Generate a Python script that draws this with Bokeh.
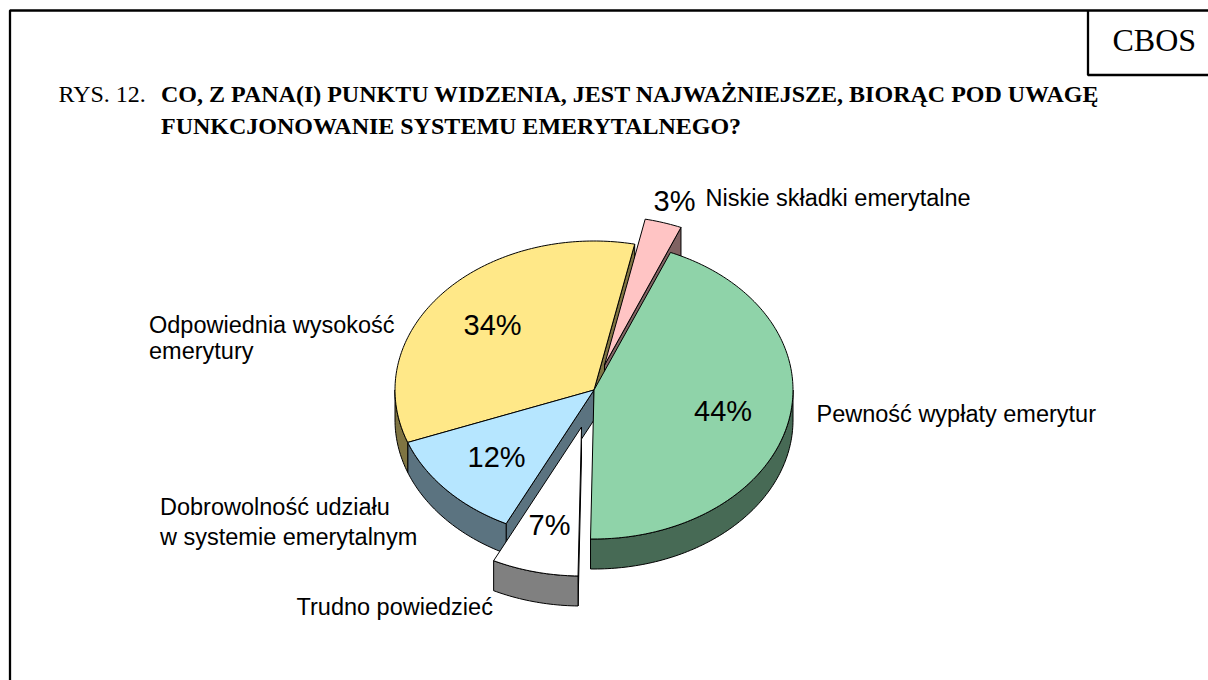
import math
from bokeh.plotting import figure
from bokeh.embed import file_html
from bokeh.resources import INLINE
from bokeh.core.properties import value

# --- data ---
categories = ["Pewność wypłaty emerytur", "Trudno powiedzieć",
              "Dobrowolność udziału w systemie emerytalnym",
              "Odpowiednia wysokość emerytury", "Niskie składki emerytalne"]
shares = [44, 7, 12, 34, 3]
percent_labels = ["44%", "7%", "12%", "34%", "3%"]
top_colors = ["#8FD3A9", "#FFFFFF", "#B6E6FF", "#FFE888", "#FFC4C4"]
side_colors = ["#476A55", "#808080", "#5B7380", "#7F7442", "#806262"]

# --- layout ---
CX, CY, RX, RY, DEPTH = 593.5, 389.5, 199, 149, 30
START = 22.6
explode = [(0, 0), (-12.5, 37), (0, 0), (0, 0), (10.5, -25)]
pct_pos = [(693.5, 410), (528, 524), (467, 456), (463, 324), (653, 200)]
name_lines = [("Pewność wypłaty emerytur", 816, 413), ("Trudno powiedzieć", 296, 606),
              ("Dobrowolność udziału", 159.5, 506), ("w systemie emerytalnym", 159.5, 536),
              ("Odpowiednia wysokość", 148.5, 324.5), ("emerytury", 148.5, 350),
              ("Niskie składki emerytalne", 705, 197)]

p = figure(width=1208, height=680, x_range=(0, 1208), y_range=(680, 0),
           toolbar_location=None, output_backend="svg", min_border=0)
p.axis.visible = False
p.grid.visible = False
p.outline_line_color = None

def pt(a, i, dz=0):
    r = math.radians(a)
    return (CX + explode[i][0] + RX * math.sin(r), CY + explode[i][1] - RY * math.cos(r) + dz)

spans, a = [], START
for s in shares:
    spans.append((a, a + s * 3.6))
    a += s * 3.6

def arc(a0, a1, i, dz=0):
    n = max(2, int(abs(a1 - a0)) + 1)
    return [pt(a0 + (a1 - a0) * k / (n - 1), i, dz) for k in range(n)]

def draw(points, color):
    p.patch([q[0] for q in points], [q[1] for q in points], fill_color=color,
            line_color="black", line_width=1, line_join="round")

def apex(i, dz=0):
    return (CX + explode[i][0], CY + explode[i][1] + dz)

def top(i):
    a0, a1 = spans[i]
    draw([apex(i)] + arc(a0, a1, i), top_colors[i])

def outer_wall(i):
    a0, a1 = max(spans[i][0], 90), min(spans[i][1], 270)
    if a1 > a0:
        draw(arc(a0, a1, i) + arc(a1, a0, i, DEPTH), side_colors[i])

def radial_wall(i, ang):
    draw([apex(i), pt(ang, i), pt(ang, i, DEPTH), apex(i, DEPTH)], side_colors[i])

GREEN, WHITE, BLUE, YELLOW, PINK = range(5)
radial_wall(YELLOW, spans[YELLOW][1])
radial_wall(PINK, spans[PINK][1])
top(PINK)
radial_wall(BLUE, spans[BLUE][0])
outer_wall(BLUE)
outer_wall(YELLOW)
top(YELLOW)
top(BLUE)
radial_wall(WHITE, spans[WHITE][0])
outer_wall(WHITE)
top(WHITE)
outer_wall(GREEN)
top(GREEN)

# frame
p.multi_line([[9.5, 9.5, 1208], [1087.5, 1087.5, 1208]], [[680, 10, 10], [10, 74.5, 74.5]],
             line_color="black", line_width=2.3)

SANS = value("Liberation Sans")
SERIF = value("Liberation Serif")
p.text([q[0] for q in pct_pos], [q[1] for q in pct_pos], text=percent_labels,
       text_font=SANS, text_font_size="29px", text_baseline="alphabetic", text_color="black")
p.text([n[1] for n in name_lines], [n[2] for n in name_lines], text=[n[0] for n in name_lines],
       text_font=SANS, text_font_size="23.5px", text_baseline="alphabetic", text_color="black")
p.text([58], [93], text=["RYS. 12."], text_font=SERIF, text_font_size="24px",
       text_baseline="alphabetic", text_color="black")
p.text([160.5, 160.5], [93, 125],
       text=["CO, Z PANA(I) PUNKTU WIDZENIA, JEST NAJWAŻNIEJSZE, BIORĄC POD UWAGĘ",
             "FUNKCJONOWANIE SYSTEMU EMERYTALNEGO?"],
       text_font=SERIF, text_font_style="bold", text_font_size="24px",
       text_baseline="alphabetic", text_color="black")
p.text([1112], [39], text=["CBOS"], text_font=SERIF, text_font_size="32px",
       text_baseline="alphabetic", text_color="black")

open("out.html", "w").write(file_html(p, INLINE))
